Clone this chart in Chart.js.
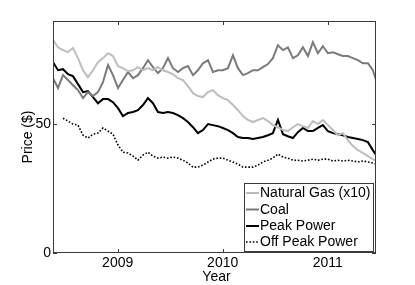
<!DOCTYPE html>
<html>
<head>
<meta charset="utf-8">
<script src="https://cdn.jsdelivr.net/npm/chart.js@4.4.0/dist/chart.umd.min.js"></script>
<style>
  html, body { margin: 0; padding: 0; background: #fff; overflow: hidden; }
  canvas { display: block; }
</style>
</head>
<body>
<canvas id="graficoPrecos" width="415" height="285"></canvas>
<script>
// ==========================
// DATA (decimal years, $)
// ==========================
const anos = [
  2008.384, 2008.432, 2008.479, 2008.527, 2008.574, 2008.622, 2008.670, 2008.717, 2008.765, 2008.812,
  2008.860, 2008.908, 2008.955, 2009.003, 2009.050, 2009.098, 2009.146, 2009.193, 2009.241, 2009.288,
  2009.336, 2009.384, 2009.431, 2009.479, 2009.526, 2009.574, 2009.622, 2009.669, 2009.717, 2009.764,
  2009.812, 2009.860, 2009.907, 2009.955, 2010.002, 2010.050, 2010.098, 2010.145, 2010.193, 2010.240,
  2010.288, 2010.336, 2010.383, 2010.431, 2010.478, 2010.526, 2010.574, 2010.621, 2010.669, 2010.716,
  2010.764, 2010.812, 2010.859, 2010.907, 2010.954, 2011.002, 2011.050, 2011.097, 2011.145, 2011.192,
  2011.240, 2011.288, 2011.335, 2011.383, 2011.430, 2011.460
];

const gasNatural = [
  82.6, 79.8, 78.7, 77.9, 79.5, 75.6, 70.9, 68.2, 70.9, 74.0,
  75.6, 77.5, 76.4, 72.5, 71.7, 70.5, 70.9, 72.1, 70.9, 71.7,
  70.9, 72.1, 70.9, 70.2, 69.4, 67.8, 67.1, 64.7, 62.0, 60.9,
  60.5, 62.4, 63.2, 61.2, 60.1, 59.3, 57.4, 55.4, 53.1, 51.6,
  50.8, 51.6, 52.3, 51.2, 49.6, 48.8, 47.7, 47.3, 48.8, 50.0,
  49.2, 48.5, 51.2, 50.0, 51.6, 49.6, 47.7, 45.7, 46.5, 43.8,
  41.5, 39.9, 38.8, 37.6, 36.4, 35.7
];

const carvao = [
  67.8, 64.0, 69.0, 67.1, 65.1, 63.2, 60.1, 62.4, 60.9, 62.4,
  66.3, 72.9, 69.0, 64.0, 67.1, 70.2, 67.8, 69.0, 71.7, 74.8,
  72.1, 69.8, 71.7, 75.6, 71.7, 70.2, 71.7, 72.5, 69.0, 70.9,
  73.6, 74.8, 70.2, 70.9, 70.9, 71.7, 76.7, 71.7, 69.0, 69.8,
  70.9, 70.9, 72.1, 73.3, 75.6, 80.6, 78.7, 79.8, 75.6, 76.7,
  79.8, 76.4, 81.8, 77.5, 80.2, 77.5, 77.9, 77.1, 76.4, 76.4,
  75.6, 74.8, 73.6, 73.6, 70.9, 67.1
];

const energiaPico = [
  74.0, 70.9, 71.3, 69.4, 68.6, 65.5, 62.4, 62.8, 60.5, 58.1,
  59.7, 59.7, 58.5, 56.2, 53.1, 54.3, 54.7, 55.4, 57.4, 60.1,
  58.1, 54.7, 54.3, 54.7, 54.3, 53.5, 52.3, 50.8, 48.8, 46.5,
  47.7, 50.0, 49.6, 49.2, 48.5, 47.7, 46.5, 45.0, 44.6, 44.6,
  44.2, 44.6, 45.0, 45.7, 46.5, 51.6, 46.1, 45.3, 44.6, 46.9,
  48.5, 47.3, 47.3, 48.5, 49.6, 47.3, 46.5, 46.1, 45.7, 45.0,
  44.6, 44.2, 43.8, 43.0, 39.9, 38.0
];

const energiaForaPico = [
  null, null, 52.3, 51.2, 50.0, 49.6, 45.7, 44.6, 46.1, 46.5,
  48.5, 47.3, 46.1, 41.9, 39.1, 38.8, 37.6, 36.0, 38.0, 39.1,
  37.6, 36.8, 37.2, 36.8, 37.2, 36.8, 36.0, 34.9, 33.3, 33.3,
  34.1, 35.3, 36.4, 36.8, 36.8, 36.0, 35.3, 34.5, 33.3, 33.3,
  33.3, 34.1, 35.3, 36.0, 36.8, 38.4, 37.2, 36.8, 36.0, 36.0,
  35.7, 36.0, 36.4, 36.0, 36.4, 36.4, 35.7, 36.0, 35.7, 36.0,
  35.7, 35.3, 35.7, 35.3, 34.9, 34.5
];

const ticksAno = [2009, 2010, 2011];
const ticksPreco = [0, 50];
const nomesSeries = ["Natural Gas (x10)", "Coal", "Peak Power", "Off Peak Power"];

// ==========================
// HELPERS
// ==========================
function pontos(valores) {
  return anos
    .map((ano, i) => ({ x: ano, y: valores[i] }))
    .filter((p) => p.y !== null);
}

const FONTE = '"Liberation Sans", Arial, Helvetica, sans-serif';
Chart.defaults.font.family = FONTE;
Chart.defaults.font.size = 14;
Chart.defaults.color = "#000";

// moldura estilo matlab, ticks para dentro, titulos e legenda
const molduraPlugin = {
  id: "moldura",
  afterDraw(chart) {
    const ctx = chart.ctx;
    const area = chart.chartArea;
    const sx = chart.scales.x;
    const sy = chart.scales.y;
    const tam = 4;

    ctx.save();
    ctx.strokeStyle = "#3a3a3a";
    ctx.lineWidth = 1;
    ctx.strokeRect(area.left + 0.5, area.top + 0.5, area.right - area.left - 1, area.bottom - area.top - 1);

    ctx.beginPath();
    ticksAno.forEach((v) => {
      const px = Math.round(sx.getPixelForValue(v)) + 0.5;
      ctx.moveTo(px, area.bottom);
      ctx.lineTo(px, area.bottom - tam);
      ctx.moveTo(px, area.top);
      ctx.lineTo(px, area.top + tam);
    });
    ticksPreco.forEach((v) => {
      const py = Math.round(sy.getPixelForValue(v)) + 0.5;
      ctx.moveTo(area.left, py);
      ctx.lineTo(area.left + tam, py);
      ctx.moveTo(area.right, py);
      ctx.lineTo(area.right - tam, py);
    });
    ctx.stroke();

    // titulos dos eixos
    ctx.fillStyle = "#000";
    ctx.font = "14px " + FONTE;
    ctx.textAlign = "center";
    ctx.textBaseline = "alphabetic";
    ctx.fillText("Year", (area.left + area.right) / 2 + 2, 281);

    ctx.save();
    ctx.translate(32, (area.top + area.bottom) / 2);
    ctx.rotate(-Math.PI / 2);
    ctx.fillText("Price ($)", 0, 0);
    ctx.restore();

    // legenda
    const lx = 244, ly = 183, lw = 129, lh = 68;
    ctx.fillStyle = "#fff";
    ctx.fillRect(lx, ly, lw, lh);
    ctx.strokeStyle = "#3a3a3a";
    ctx.strokeRect(lx + 0.5, ly + 0.5, lw, lh);

    const linhasY = [193, 209.5, 226, 242];
    chart.data.datasets.forEach((ds, i) => {
      const y = linhasY[i];
      ctx.beginPath();
      ctx.strokeStyle = ds.borderColor;
      ctx.lineWidth = ds.borderWidth;
      ctx.setLineDash(ds.borderDash || []);
      ctx.moveTo(246, y);
      ctx.lineTo(259, y);
      ctx.stroke();
      ctx.setLineDash([]);
      ctx.fillStyle = "#000";
      ctx.textAlign = "left";
      ctx.textBaseline = "middle";
      ctx.fillText(ds.label, 260, y + 0.5);
    });
    ctx.restore();
  },
};

// ==========================
// GRAFICO
// ==========================
const canvas = document.getElementById("graficoPrecos");

new Chart(canvas, {
  type: "line",
  data: {
    datasets: [
      {
        label: nomesSeries[0],
        data: pontos(gasNatural),
        borderColor: "#bdbdbd",
        borderWidth: 2,
      },
      {
        label: nomesSeries[1],
        data: pontos(carvao),
        borderColor: "#7a7a7a",
        borderWidth: 2,
      },
      {
        label: nomesSeries[2],
        data: pontos(energiaPico),
        borderColor: "#000",
        borderWidth: 2,
      },
      {
        label: nomesSeries[3],
        data: pontos(energiaForaPico),
        borderColor: "#000",
        borderWidth: 1.6,
        borderDash: [1.6, 1.8],
      },
    ],
  },
  options: {
    responsive: false,
    animation: false,
    devicePixelRatio: 1,
    elements: {
      point: { radius: 0 },
      line: { tension: 0, fill: false },
    },
    layout: { padding: { top: 21, right: 39, left: 0, bottom: 0 } },
    plugins: {
      legend: { display: false },
      tooltip: { enabled: false },
    },
    scales: {
      x: {
        type: "linear",
        min: 2008.384,
        max: 2011.46,
        afterBuildTicks: (scale) => {
          scale.ticks = ticksAno.map((v) => ({ value: v }));
        },
        afterFit: (scale) => {
          scale.height = 32;
        },
        ticks: {
          autoSkip: false,
          maxRotation: 0,
          padding: 2,
          callback: (v) => String(v),
        },
        grid: { display: false, drawTicks: false },
        border: { display: false },
      },
      y: {
        min: 0,
        max: 90,
        afterBuildTicks: (scale) => {
          scale.ticks = ticksPreco.map((v) => ({ value: v }));
        },
        afterFit: (scale) => {
          scale.width = 53;
        },
        ticks: { padding: 2 },
        grid: { display: false, drawTicks: false },
        border: { display: false },
      },
    },
  },
  plugins: [molduraPlugin],
});
</script>
</body>
</html>
